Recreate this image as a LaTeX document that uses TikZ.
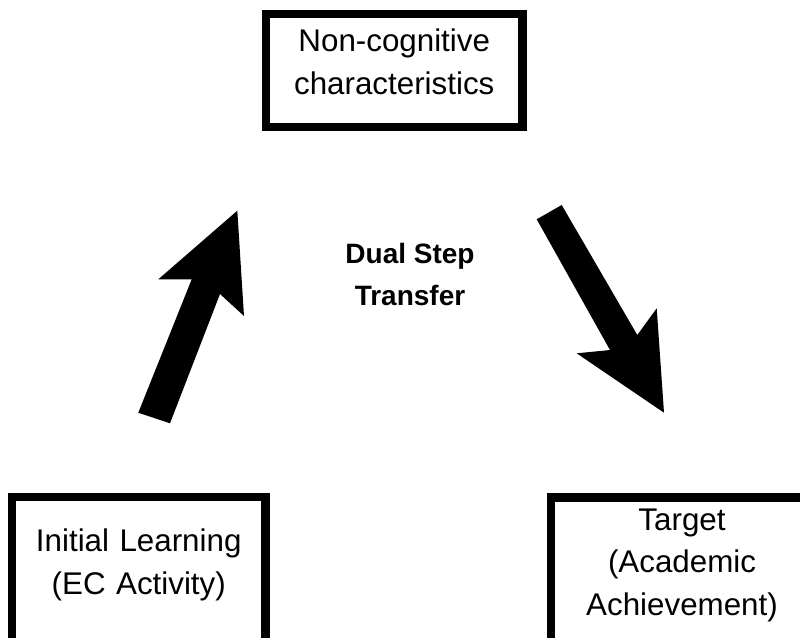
\documentclass[tikz,border=0pt]{standalone}
\usepackage{fontspec}
\setmainfont{Liberation Sans}
\usepackage{tikz}

\begin{document}
\begin{tikzpicture}[x=0.75pt,y=-0.75pt,
  box/.style={draw=black, line width=6.3pt, outer sep=0pt, inner sep=0pt,
    align=center, anchor=north, font=\fontsize{23.5}{32}\selectfont},
  bigarrow/.style={fill=black}]
\clip (0,0) rectangle (800,637);
\fill[white] (0,0) rectangle (800,637);

% the three stages
\node[box, text width=192.4pt, text height=28.4pt, text depth=56.3pt]
  (noncog) at (394.25,13.8) {Non-cognitive\\characteristics};
\node[box, text width=190.1pt, text height=41pt, text depth=81pt]
  (initial) at (138.75,497) {Initial Learning\\(EC Activity)};
\node[box, text width=196.5pt, text height=24.4pt, text depth=120pt]
  (target) at (682,497.5) {Target\\(Academic\\Achievement)};

\node[align=center, anchor=base, font=\bfseries\fontsize{21}{31.5}\selectfont]
  (dual) at (410,305) {Dual Step\\Transfer};

% block arrows
\fill[bigarrow] (138.3,412.7) -- (191.7,279.3) -- (158.3,279.3) -- (237.3,210.7)
  -- (244,316) -- (220,294) -- (170,423.3) -- cycle;
\fill[bigarrow] (536.7,219.3) -- (561.7,205) -- (637.3,335) -- (656.7,308.3)
  -- (664,412.7) -- (576.7,353.3) -- (610,350) -- cycle;

\end{tikzpicture}
\end{document}
